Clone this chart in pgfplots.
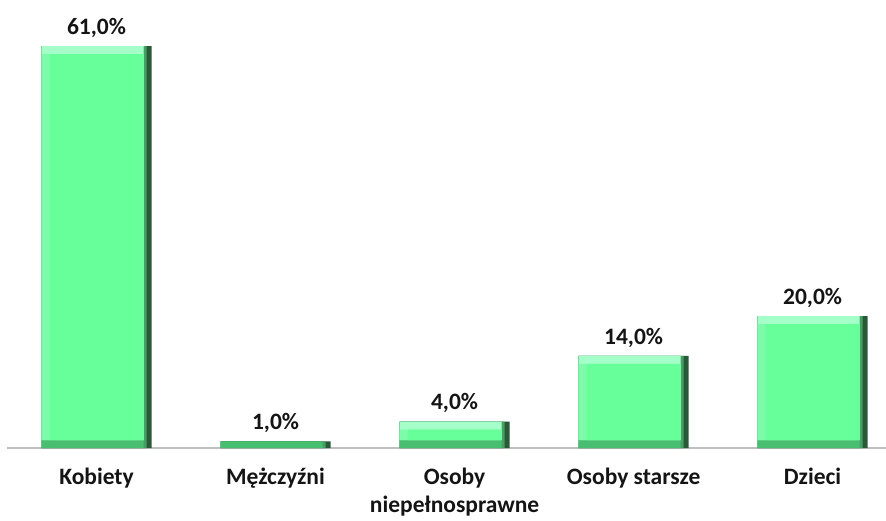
\documentclass[border=0pt]{standalone}
\usepackage{pgfplots}
\pgfplotsset{compat=1.18}
\usepackage{fontspec}
\setmainfont{Carlito}
\definecolor{barmain}{RGB}{102,255,153}
\definecolor{bartop}{RGB}{165,255,200}
\definecolor{barleft}{RGB}{125,250,170}
\definecolor{barright}{RGB}{40,90,56}
\definecolor{barright2}{RGB}{70,160,100}
\definecolor{barbottom}{RGB}{72,190,112}
\definecolor{txt}{RGB}{20,20,20}
\definecolor{axgray}{RGB}{191,191,191}
\pgfplotstableread{
x y
0 61
1 1
2 4
3 14
4 20
}\datatable
\pgfplotstableread{
x y
0 61
2 4
3 14
4 20
}\datatableb
\begin{document}
\begin{tikzpicture}
\begin{axis}[
  at={(0,0)}, anchor=south west,
  scale only axis,
  width=879pt, height=448pt,
  xmin=-0.5, xmax=4.41,
  ymin=0, ymax=68,
  hide y axis,
  axis x line*=bottom,
  axis line style={draw=axgray, line width=1.6pt},
  xtick={0,1,2,3,4},
  xticklabels={Kobiety, Mężczyźni, {Osoby\\niepełnosprawne}, Osoby starsze, Dzieci},
  major tick length=0pt,
  xticklabel style={align=center, font=\fontsize{23.5}{28}\selectfont\bfseries, text=txt, yshift=-16pt},
  /pgf/number format/assume math mode=true,
  ybar, bar width=110pt,
  every node near coord/.append style={font=\fontsize{23.5}{28}\selectfont\bfseries, text=txt, yshift=5pt},
  clip=false,
]
% dark right edge
\addplot[fill=barright, draw=none, bar width=110pt, bar shift=0pt,
  nodes near coords={\pgfmathprintnumber[fixed,fixed zerofill,precision=1,use comma]{\pgfplotspointmeta}\%}]
  table[x=x,y=y] {\datatable};
\addplot[fill=barright2, draw=none, bar width=105pt, bar shift=-2.5pt] table[x=x,y=y] {\datatable};
% bottom bevel
\addplot[fill=barbottom, draw=none, bar width=102pt, bar shift=-4pt] table[x=x,y=y] {\datatable};
% top bevel
\addplot[fill=bartop, draw=none, bar width=102pt, bar shift=-4pt, yshift=8pt,
  y filter/.expression={y-1.2143}] table[x=x,y=y] {\datatableb};
% left bevel
\addplot[fill=barleft, draw=none, bar width=102pt, bar shift=-4pt, yshift=8pt,
  y filter/.expression={y-2.4286}] table[x=x,y=y] {\datatableb};
% face
\addplot[fill=barmain, draw=none, bar width=94pt, bar shift=0pt, yshift=8pt,
  y filter/.expression={y-2.4286}] table[x=x,y=y] {\datatableb};
\end{axis}
\pgfresetboundingbox
\path (-7pt,-72pt) rectangle (879pt,448pt);
\end{tikzpicture}
\end{document}
